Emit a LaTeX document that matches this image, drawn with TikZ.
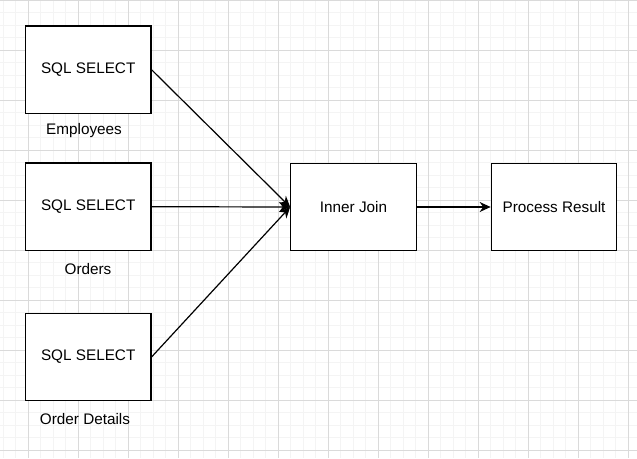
\documentclass[tikz,border=0pt]{standalone}
\usepackage{fontspec}
\setmainfont{Liberation Sans}
\usetikzlibrary{arrows.meta}
\definecolor{minorgrid}{HTML}{F4F4F4}
\definecolor{majorgrid}{HTML}{DADADA}
\tikzset{
  box/.style={draw=black, line width=1.2pt, fill=white, minimum width=125.5pt, minimum height=87.5pt, inner sep=0pt, font=\fontsize{15.3}{17}\selectfont},
  lbl/.style={font=\fontsize{15.3}{17}\selectfont, inner sep=0pt},
  conn/.style={draw=black, line width=1.2pt, -{Stealth[length=11pt,width=10pt]}}
}
\begin{document}
\begin{tikzpicture}[x=1pt,y=-1pt]
\useasboundingbox (0,0) rectangle (637,458);
\fill[white] (0,0) rectangle (637,458);
% minor grid
\foreach \i in {0,...,51} {
  \draw[minorgrid, line width=0.8pt] ({3.3+12.5*\i},0) -- ({3.3+12.5*\i},458);
}
\foreach \j in {0,...,37} {
  \draw[minorgrid, line width=0.8pt] (0,{0.3+12.5*\j}) -- (637,{0.3+12.5*\j});
}
% major grid
\foreach \i in {0,...,12} {
  \draw[majorgrid, line width=0.8pt] ({28.3+50*\i},0) -- ({28.3+50*\i},458);
}
\foreach \j in {0,...,9} {
  \draw[majorgrid, line width=0.8pt] (0,{0.3+50*\j}) -- (637,{0.3+50*\j});
}
% nodes
\node[box] (s1) at (88.2,69.7) {SQL SELECT};
\node[box] (s2) at (88.2,206.7) {SQL SELECT};
\node[box] (s3) at (88.2,357.0) {SQL SELECT};
\node[box] (ij) at (353.5,207.0) {Inner Join};
\node[box] (pr) at (554.0,207.0) {Process Result};
\node[lbl] (l1) at (84,131) {Employees};
\node[lbl] (l2) at (88,269) {Orders};
\node[lbl] (l3) at (85,419) {Order Details};
% connectors
\draw[conn] (s1.east) -- (ij.west);
\draw[conn] (s2.east) -- (ij.west);
\draw[conn] (s3.east) -- (ij.west);
\draw[conn] (ij.east) -- (pr.west);
\end{tikzpicture}
\end{document}
